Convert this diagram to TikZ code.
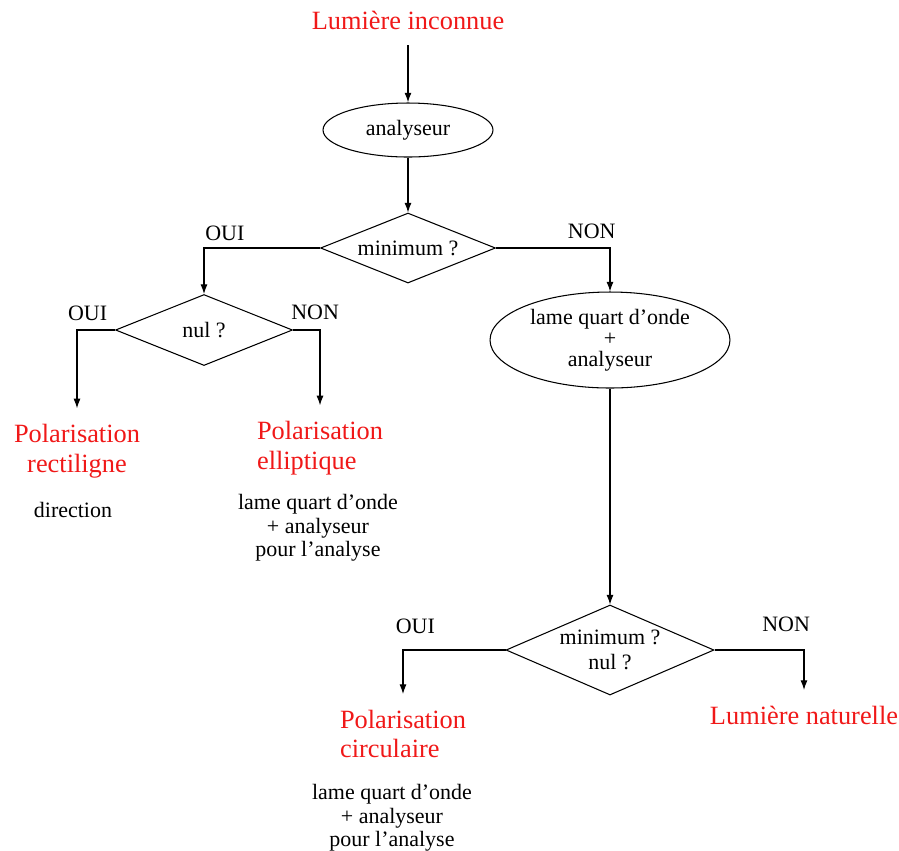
\documentclass[tikz,border=0pt]{standalone}
\usepackage{fontspec}
\setmainfont{Liberation Serif}
\usetikzlibrary{arrows.meta, positioning, shapes.geometric}
\definecolor{LumRed}{HTML}{F01818}

\begin{document}
\begin{tikzpicture}[
    x=0.02cm, y=-0.02cm,
    >={Latex[length=5.5pt,width=4pt]},
    font=\fontsize{12.5}{13.5}\selectfont,
    ell/.style={draw, ellipse, inner sep=0pt, align=center, line width=0.6pt},
    dec/.style={draw, diamond, aspect=2.5, inner sep=0pt, align=center, line width=0.6pt},
    res/.style={text=LumRed, font=\fontsize{15}{17}\selectfont, inner sep=2pt, outer sep=7pt},
    note/.style={align=center, inner sep=1pt},
    a/.style={->, line width=0.6pt},
    lab/.style={inner sep=2pt},
  ]
    \useasboundingbox (0,0) rectangle (899,850);

    % =================== entrée ===================
    \node[res] (inc) at (408,20) {Lumière inconnue};
    \node[ell, minimum width=3.4cm, minimum height=1.08cm] (an1) at (408,130) {analyseur};
    \node[dec, minimum width=3.5cm, minimum height=1.4cm] (min1) at (408,248) {minimum ?};
    \draw[a, line width=0.8pt] (inc) -- (an1);
    \draw[a] (an1) -- (min1);

    % =================== branche OUI ===================
    \node[dec, minimum width=3.54cm, minimum height=1.42cm] (nul) at (204,330) {nul ?};
    \node[res, align=center] (rect) at (77,451) {Polarisation\\rectiligne};
    \node[res, align=left] (elli) at (320,448) {Polarisation\\elliptique};
    \node[note] (dir) at (73,510) {direction};
    \node[note] (ellnote) at (318,528) {lame quart d'onde\\+ analyseur\\pour l'analyse};
    \draw[a] (min1.west) -| node[lab, above, pos=0.41, yshift=2pt] {OUI} (nul.north);
    \draw[a] (nul.west) -| node[lab, above, pos=0.36, yshift=3pt] {OUI} (rect.north);
    \draw[a] (nul.east) -| node[lab, above, pos=0.41, yshift=3.5pt] {NON} (elli.north);

    % =================== branche NON ===================
    \node[ell, minimum width=4.8cm, minimum height=1.92cm] (lqo) at (610,340)
      {lame quart d'onde\\[-1.5pt]+\\[-1.5pt]analyseur};
    \node[dec, aspect=2.3, minimum width=4.16cm, minimum height=1.8cm] (min2) at (610,650)
      {minimum ?\\[1pt]nul ?};
    \node[res, align=left] (circ) at (403,734) {Polarisation\\circulaire};
    \node[res] (nat) at (804,715) {Lumière naturelle};
    \node[note] (circnote) at (392,818) {lame quart d'onde\\+ analyseur\\pour l'analyse};
    \draw[a] (min1.east) -| node[lab, above, pos=0.42, yshift=3pt] {NON} (lqo.north);
    \draw[a] (lqo) -- (min2);
    \draw[a] (min2.west) -| node[lab, above, pos=0.44, yshift=7pt] {OUI} (circ.north);
    \draw[a] (min2.east) -| node[lab, above, pos=0.40, yshift=8pt] {NON} (nat.north);
  \end{tikzpicture}
\end{document}
